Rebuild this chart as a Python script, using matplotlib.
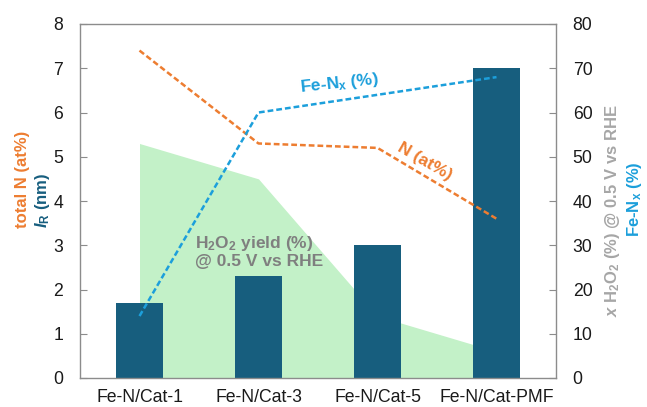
import matplotlib
matplotlib.use("Agg")
import matplotlib.pyplot as plt
import numpy as np

plt.rcParams["font.family"] = ["Liberation Sans", "DejaVu Sans"]
plt.rcParams["mathtext.fontset"] = "custom"
plt.rcParams["mathtext.rm"] = "Liberation Sans:bold"
plt.rcParams["mathtext.it"] = "Liberation Sans:italic:bold"
plt.rcParams["mathtext.bf"] = "Liberation Sans:bold"

catalysts = ["Fe-N/Cat-1", "Fe-N/Cat-3", "Fe-N/Cat-5", "Fe-N/Cat-PMF"]
ir_nm = [1.7, 2.3, 3.0, 7.0]            # bars, left axis
total_n = [7.4, 5.3, 5.2, 3.6]          # orange dashed, left axis
fe_nx = [14, 60, 64, 68]                # blue dashed, right axis
h2o2_yield = [53, 45, 14, 6]            # green area, right axis

BAR = "#175E7E"
ORANGE = "#ED7D31"
BLUE = "#1C9FDB"
GREEN = "#C3F1C8"
SPINE = "#8C8C8C"
TICK_FS = 12.7

x = np.arange(len(catalysts))

fig = plt.figure(figsize=(6.47, 4.07), dpi=100)
rect = [80 / 647, 1 - 378 / 407, 476 / 647, 354 / 407]

# back layer: H2O2 yield area
ax_bg = fig.add_axes(rect)
ax_bg.fill_between(x, h2o2_yield, 0, color=GREEN, linewidth=0)
ax_bg.set_ylim(0, 80)
ax_bg.set_xlim(-0.5, 3.5)
ax_bg.axis("off")

# middle layer: bars + total N
ax = fig.add_axes(rect)
ax.patch.set_visible(False)
ax.bar(x, ir_nm, width=0.4, color=BAR, zorder=2)
ax.plot(x, total_n, color=ORANGE, lw=1.8, dashes=(2.3, 1.2), zorder=3)
ax.set_xlim(-0.5, 3.5)
ax.set_ylim(0, 8)
ax.set_xticks(x)
ax.set_xticklabels(catalysts, fontsize=TICK_FS, color="#1a1a1a")
ax.tick_params(axis="x", length=0, pad=8)
ax.tick_params(axis="y", direction="in", length=5, color=SPINE,
               labelsize=TICK_FS, labelcolor="#1a1a1a", pad=12)
for s in ax.spines.values():
    s.set_color(SPINE)
    s.set_linewidth(1.0)

# top layer: Fe-Nx with the right axis
ax2 = fig.add_axes(rect, sharex=ax)
ax2.patch.set_visible(False)
ax2.plot(x, fe_nx, color=BLUE, lw=1.8, dashes=(2.3, 1.2))
ax2.set_ylim(0, 80)
ax2.yaxis.tick_right()
ax2.tick_params(axis="y", direction="in", length=5, color=SPINE,
                labelsize=TICK_FS, labelcolor="#1a1a1a", pad=12)
ax2.tick_params(axis="x", bottom=False, labelbottom=False)
for s in ax2.spines.values():
    s.set_visible(False)

# in-plot labels
ax2.text(1.68, 66.5, r"Fe-N$_\mathregular{x}$ (%)", color=BLUE, fontsize=12.5,
         fontweight="bold", ha="center", va="center", rotation=6)
ax.text(2.4, 4.9, "N (at%)", color=ORANGE, fontsize=12.5, fontweight="bold",
        ha="center", va="center", rotation=-30)
ax.text(0.47, 2.85, "H$_2$O$_2$ yield (%)\n@ 0.5 V vs RHE", color="#7F7F7F",
        fontsize=12.5, fontweight="bold", ha="left", va="center", linespacing=1.1)

# axis titles
fig.text(23 / 647, 1 - 228 / 407, "total N (at%)", color=ORANGE, fontsize=12,
         fontweight="bold", rotation=90, ha="center", va="bottom")
fig.text(42 / 647, 1 - 228 / 407, r"$\mathit{I}_\mathregular{R}$ (nm)", color=BAR,
         fontsize=12, fontweight="bold", rotation=90, ha="center", va="bottom")
fig.text(612 / 647, 1 - 211 / 407,
         r"$\mathit{x}$ H$_2$O$_2$ (%) @ 0.5 V vs RHE", color="#A6A6A6",
         fontsize=12, fontweight="bold", rotation=90, ha="center", va="center")
fig.text(634 / 647, 1 - 199 / 407, r"Fe-N$_\mathregular{x}$ (%)", color=BLUE,
         fontsize=12, fontweight="bold", rotation=90, ha="center", va="center")

fig.savefig("out.png", dpi=100)
